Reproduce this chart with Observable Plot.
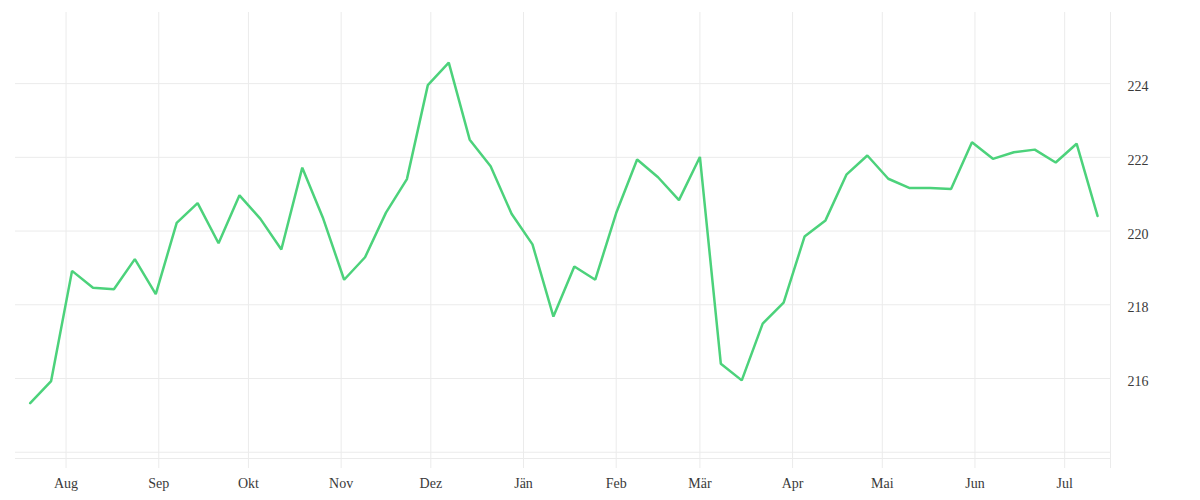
<!DOCTYPE html>
<html>
<head>
<meta charset="utf-8">
<script src="https://cdn.jsdelivr.net/npm/d3@7"></script>
<script src="https://cdn.jsdelivr.net/npm/@observablehq/plot@0.6"></script>
<style>
  html, body { margin: 0; padding: 0; background: #fff; }
  svg { display: block; }
</style>
</head>
<body>
<div id="chart"></div>
<script>
const dates = [
  "2020-07-20","2020-07-27","2020-08-03","2020-08-10","2020-08-17","2020-08-24","2020-08-31",
  "2020-09-07","2020-09-14","2020-09-21","2020-09-28","2020-10-05","2020-10-12","2020-10-19",
  "2020-10-26","2020-11-02","2020-11-09","2020-11-16","2020-11-23","2020-11-30","2020-12-07",
  "2020-12-14","2020-12-21","2020-12-28","2021-01-04","2021-01-11","2021-01-18","2021-01-25",
  "2021-02-01","2021-02-08","2021-02-15","2021-02-22","2021-03-01","2021-03-08","2021-03-15",
  "2021-03-22","2021-03-29","2021-04-05","2021-04-12","2021-04-19","2021-04-26","2021-05-03",
  "2021-05-10","2021-05-17","2021-05-24","2021-05-31","2021-06-07","2021-06-14","2021-06-21",
  "2021-06-28","2021-07-05","2021-07-12"
];
const values = [
  215.33, 215.93, 218.92, 218.46, 218.42, 219.24, 218.29,
  220.22, 220.76, 219.67, 220.97, 220.33, 219.50, 221.72,
  220.34, 218.68, 219.29, 220.50, 221.41, 223.96, 224.57,
  222.48, 221.76, 220.47, 219.64, 217.68, 219.04, 218.68,
  220.49, 221.94, 221.46, 220.84, 222.01, 216.40, 215.95,
  217.49, 218.06, 219.85, 220.29, 221.53, 222.05, 221.42,
  221.17, 221.17, 221.14, 222.41, 221.96, 222.14, 222.21,
  221.86, 222.37, 220.41
];
const monthTicks = [
  "2020-08-01","2020-09-01","2020-10-01","2020-11-01","2020-12-01","2021-01-01",
  "2021-02-01","2021-03-01","2021-04-01","2021-05-01","2021-06-01","2021-07-01"
];
const monthLabels = ["Aug","Sep","Okt","Nov","Dez","Jän","Feb","Mär","Apr","Mai","Jun","Jul"];
const yGridTicks = [214, 216, 218, 220, 222, 224];
const yLabelTicks = [216, 218, 220, 222, 224];
const xDomain = ["2020-07-15T02:00:00Z", "2021-07-16T08:00:00Z"];
const yDomain = [213.83, 225.93];

const data = dates.map((d, i) => ({date: new Date(d), value: values[i]}));
const tickDates = monthTicks.map(d => new Date(d));
const domainX = xDomain.map(d => new Date(d));
const gridDates = [...tickDates, domainX[1]];
const labelOf = new Map(tickDates.map((d, i) => [+d, monthLabels[i]]));

const gridColor = "#ebebeb";

const chart = Plot.plot({
  width: 1200,
  height: 500,
  marginTop: 12,
  marginBottom: 42,
  marginLeft: 15,
  marginRight: 90,
  style: {fontFamily: "'Liberation Serif', serif", fontSize: "14px", color: "#444", background: "#fff"},
  x: {type: "utc", domain: domainX},
  y: {domain: yDomain},
  marks: [
    Plot.gridY(yGridTicks, {stroke: gridColor, strokeOpacity: 1, strokeWidth: 1}),
    Plot.gridX(gridDates, {stroke: gridColor, strokeOpacity: 1, strokeWidth: 1}),
    Plot.frame({anchor: "bottom", stroke: gridColor, strokeOpacity: 1}),
    Plot.axisX(gridDates, {
      anchor: "bottom",
      tickSize: 10,
      tickPadding: 10,
      stroke: gridColor,
      strokeOpacity: 1,
      tickFormat: d => labelOf.get(+d) ?? "",
      label: null,
      fill: "#3a3a3a"
    }),
    Plot.axisY(yLabelTicks, {
      anchor: "right",
      tickSize: 0,
      tickPadding: 17,
      dy: 3,
      tickFormat: d => String(d),
      label: null,
      fill: "#3a3a3a"
    }),
    Plot.lineY(data, {x: "date", y: "value", stroke: "#4cd27b", strokeWidth: 2.5, strokeLinejoin: "miter"})
  ]
});
document.getElementById("chart").append(chart);
</script>
</body>
</html>
